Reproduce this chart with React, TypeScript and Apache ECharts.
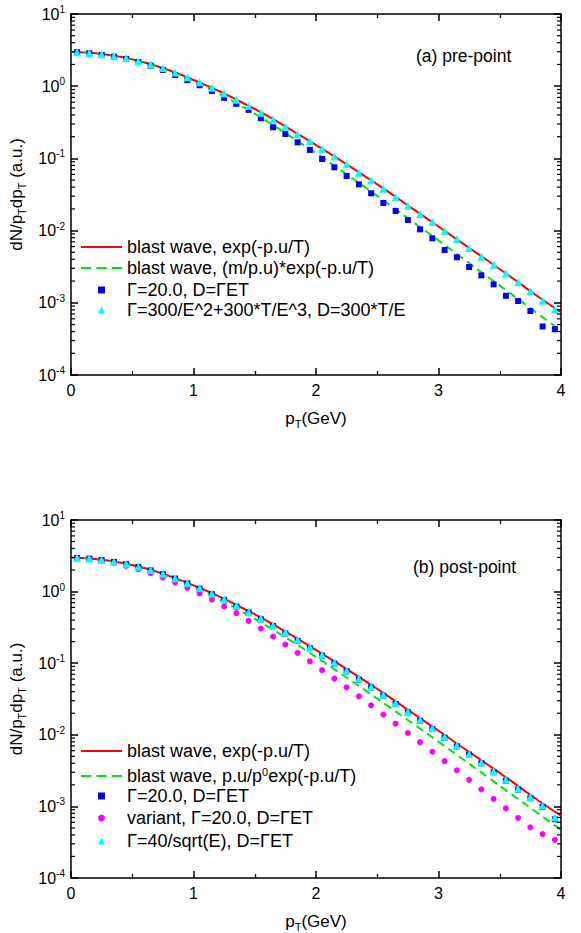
import React, { useEffect, useRef } from "react";
import * as echarts from "echarts";

const FONT = "'Liberation Sans', Arial, sans-serif";

// p_T grid for the model curves (GeV)
const curveP = [0, 0.2, 0.4, 0.6, 0.8, 1.0, 1.2, 1.4, 1.6, 1.8, 2.0, 2.2, 2.4, 2.6, 2.8, 3.0, 3.2, 3.4, 3.6, 3.8, 4.0];
// p_T of the computed points (GeV)
const pointP = [0.05, 0.15, 0.25, 0.35, 0.45, 0.55, 0.65, 0.75, 0.85, 0.95, 1.05, 1.15, 1.25, 1.35, 1.45, 1.55, 1.65, 1.75, 1.85, 1.95,
  2.05, 2.15, 2.25, 2.35, 2.45, 2.55, 2.65, 2.75, 2.85, 2.95, 3.05, 3.15, 3.25, 3.35, 3.45, 3.55, 3.65, 3.75, 3.85, 3.95];

// (a) pre-point
const topRed = [2.97, 2.85, 2.55, 2.13, 1.66, 1.22, 0.87, 0.59, 0.39, 0.246, 0.153, 0.094, 0.0565, 0.0336, 0.0195, 0.0114, 0.0066, 0.00385, 0.00222, 0.00126, 0.00074];
const topGreen = [2.97, 2.84, 2.55, 2.12, 1.63, 1.18, 0.80, 0.52, 0.325, 0.197, 0.118, 0.069, 0.040, 0.0228, 0.0129, 0.0073, 0.0041, 0.0023, 0.0013, 0.00073, 0.00041];
const topSquares = [2.95, 2.86, 2.70, 2.56, 2.38, 2.16, 1.93, 1.68, 1.43, 1.21, 1.03, 0.86, 0.69, 0.57, 0.47, 0.36, 0.27, 0.218, 0.167, 0.131,
  0.098, 0.0753, 0.0570, 0.0437, 0.0329, 0.0241, 0.0187, 0.0140, 0.0104, 0.00782, 0.00538, 0.00427, 0.00313, 0.00240, 0.00180, 0.00125, 0.00106, 0.00077, 0.00047, 0.00043];
const topTriangles = [2.95, 2.89, 2.78, 2.63, 2.45, 2.24, 2.01, 1.78, 1.55, 1.33, 1.13, 0.95, 0.79, 0.65, 0.53, 0.43, 0.345, 0.275, 0.218, 0.174,
  0.135, 0.106, 0.0828, 0.0634, 0.0498, 0.0380, 0.0292, 0.0221, 0.0170, 0.0132, 0.00986, 0.00757, 0.00574, 0.00435, 0.00337, 0.00256, 0.00192, 0.00144, 0.00107, 0.00081];

// (b) post-point
const botRed = [2.97, 2.85, 2.55, 2.13, 1.66, 1.22, 0.87, 0.59, 0.39, 0.246, 0.153, 0.094, 0.0565, 0.0336, 0.0195, 0.0114, 0.0066, 0.00385, 0.00222, 0.00126, 0.00074];
const botGreen = [2.97, 2.83, 2.52, 2.08, 1.60, 1.15, 0.79, 0.52, 0.33, 0.203, 0.122, 0.072, 0.042, 0.0243, 0.0140, 0.0080, 0.00455, 0.00258, 0.00146, 0.00083, 0.00047];
const botSquares = [2.95, 2.88, 2.76, 2.60, 2.42, 2.21, 1.98, 1.75, 1.52, 1.30, 1.10, 0.92, 0.76, 0.62, 0.51, 0.41, 0.33, 0.26, 0.205, 0.162,
  0.127, 0.099, 0.077, 0.059, 0.046, 0.0352, 0.0270, 0.0206, 0.0157, 0.0120, 0.0091, 0.0069, 0.0053, 0.0040, 0.0030, 0.00228, 0.00172, 0.00130, 0.00098, 0.00066];
const botCircles = [2.92, 2.82, 2.67, 2.49, 2.28, 2.05, 1.81, 1.57, 1.34, 1.13, 0.94, 0.77, 0.62, 0.50, 0.39, 0.305, 0.236, 0.182, 0.139, 0.106,
  0.080, 0.061, 0.046, 0.0345, 0.0258, 0.0192, 0.0143, 0.0106, 0.0079, 0.0058, 0.0043, 0.0032, 0.00235, 0.00173, 0.00127, 0.00094, 0.00069, 0.00051, 0.00041, 0.00034];
const botTriangles = [2.95, 2.89, 2.77, 2.62, 2.44, 2.23, 2.00, 1.77, 1.54, 1.32, 1.12, 0.94, 0.78, 0.64, 0.52, 0.42, 0.34, 0.27, 0.212, 0.168,
  0.131, 0.102, 0.079, 0.061, 0.047, 0.0362, 0.0278, 0.0212, 0.0162, 0.0124, 0.0094, 0.0071, 0.0054, 0.0041, 0.0031, 0.00236, 0.00178, 0.00135, 0.00102, 0.00070];

// minor tick positions on the log axis
const yMinorTicks = [2e-4, 3e-4, 4e-4, 5e-4, 6e-4, 7e-4, 8e-4, 9e-4, 2e-3, 3e-3, 4e-3, 5e-3, 6e-3, 7e-3, 8e-3, 9e-3,
  2e-2, 3e-2, 4e-2, 5e-2, 6e-2, 7e-2, 8e-2, 9e-2, 0.2, 0.3, 0.4, 0.5, 0.6, 0.7, 0.8, 0.9, 2, 3, 4, 5, 6, 7, 8, 9];

const nameRed = "blast wave, exp(-p.u/T)";
const nameGreenTop = "blast wave, (m/p.u)*exp(-p.u/T)";
const nameGreenBot = "blast wave, p.u/p{sup|0}exp(-p.u/T)";
const nameSq = "Γ=20.0, D=ΓET";
const nameTriTop = "Γ=300/E^2+300*T/E^3, D=300*T/E";
const nameCirc = "variant, Γ=20.0, D=ΓET";
const nameTriBot = "Γ=40/sqrt(E), D=ΓET";

const RED = "#ff0000";
const GREEN = "#00e600";
const BLUE = "#0000ff";
const CYAN = "#00ffff";
const MAGENTA = "#ff00ff";

const ICON_SOLID = "path://M0,0H40V2H0Z";
const ICON_DASH = "path://M0,0H10V2H0Z M15,0H25V2H15Z M30,0H40V2H30Z";

const zip = (xs: number[], ys: number[]) => xs.map((x, i) => [x, ys[i]]);

function xAxes(grid: number) {
  const common = {
    type: "value",
    gridIndex: grid,
    min: 0,
    max: 4,
    interval: 1,
    splitLine: { show: false },
    minorSplitLine: { show: false },
    axisLine: { onZero: false, lineStyle: { color: "#000", width: 1.5 } },
    axisTick: { inside: true, length: 7, lineStyle: { color: "#000", width: 1.5 } },
    minorTick: { show: true, splitNumber: 2, length: 4, lineStyle: { color: "#000", width: 1.3 } },
  };
  return [
    {
      ...common,
      position: "bottom",
      axisLabel: { color: "#000", fontSize: 16, fontFamily: FONT, margin: 7 },
      name: "p{sub|T}(GeV)",
      nameLocation: "middle",
      nameGap: 33,
      nameTextStyle: {
        color: "#000",
        fontSize: 17,
        fontFamily: FONT,
        rich: { sub: { fontSize: 11, fontFamily: FONT, color: "#000", padding: [10, 0, 0, 0] } },
      },
    },
    { ...common, position: "top", axisLabel: { show: false } },
  ];
}

function yAxes(grid: number) {
  const common = {
    type: "log",
    logBase: 10,
    gridIndex: grid,
    min: 1e-4,
    max: 10,
    splitLine: { show: false },
    minorSplitLine: { show: false },
    minorTick: { show: false },
    axisLine: { onZero: false, lineStyle: { color: "#000", width: 1.5 } },
    axisTick: { inside: true, length: 7, lineStyle: { color: "#000", width: 1.5 } },
  };
  return [
    {
      ...common,
      position: "left",
      axisLabel: {
        color: "#000",
        fontFamily: FONT,
        margin: 6,
        formatter: (v: number) => `{b|10}{s|${Math.round(Math.log10(v))}}`,
        rich: {
          b: { fontSize: 16, fontFamily: FONT, color: "#000" },
          s: { fontSize: 10, fontFamily: FONT, color: "#000", padding: [0, 0, 9, 0] },
        },
      },
      name: "dN/p{sub|T}dp{sub|T} (a.u.)",
      nameLocation: "middle",
      nameGap: 35,
      nameTextStyle: {
        color: "#000",
        fontSize: 17,
        fontFamily: FONT,
        rich: { sub: { fontSize: 11, fontFamily: FONT, color: "#000", padding: [10, 0, 0, 0] } },
      },
    },
    { ...common, position: "right", axisLabel: { show: false } },
  ];
}

function minorTickSeries(xi: number, yi: number) {
  return {
    type: "custom",
    xAxisIndex: xi,
    yAxisIndex: yi,
    silent: true,
    z: 10,
    data: yMinorTicks.map((v) => [0, v]),
    renderItem: (_p: any, api: any) => {
      const v = api.value(1);
      const l = api.coord([0, v]);
      const r = api.coord([4, v]);
      const st = { stroke: "#000", lineWidth: 1.2 };
      return {
        type: "group",
        children: [
          { type: "line", shape: { x1: l[0], y1: l[1], x2: l[0] + 4, y2: l[1] }, style: st },
          { type: "line", shape: { x1: r[0] - 4, y1: r[1], x2: r[0], y2: r[1] }, style: st },
        ],
      };
    },
  };
}

function lineSeries(name: string, xi: number, yi: number, data: number[], color: string, dashed: boolean) {
  return {
    type: "line",
    name,
    xAxisIndex: xi,
    yAxisIndex: yi,
    data: zip(curveP, data),
    smooth: true,
    symbol: "none",
    lineStyle: { color, width: 2, type: dashed ? [8, 5] : "solid" },
    itemStyle: { color },
    z: 3,
  };
}

function scatterSeries(name: string, xi: number, yi: number, data: number[], color: string, symbol: string, size: number) {
  return {
    type: "scatter",
    name,
    xAxisIndex: xi,
    yAxisIndex: yi,
    data: zip(pointP, data),
    symbol,
    symbolSize: size,
    itemStyle: { color, opacity: 1 },
    z: 4,
  };
}

const legendText = {
  color: "#000",
  fontSize: 18,
  fontFamily: FONT,
  rich: { sup: { fontSize: 11, fontFamily: FONT, color: "#000", padding: [0, 0, 9, 0] } },
};

// one legend component per entry so that line and marker keys can have their own sizes
function lineLegend(name: string, icon: string, cy: number) {
  return {
    orient: "vertical",
    left: 81,
    top: cy - 10,
    padding: 0,
    itemWidth: 41,
    itemHeight: 8,
    selectedMode: false,
    textStyle: legendText,
    data: [{ name, icon }],
  };
}
function markLegend(name: string, cy: number) {
  return {
    orient: "vertical",
    left: 98,
    top: cy - 10,
    padding: 0,
    itemWidth: 7,
    itemHeight: 7,
    selectedMode: false,
    textStyle: { ...legendText, padding: [0, 0, 0, 17] },
    data: [name],
  };
}

export default function App() {
  const ref = useRef<HTMLDivElement>(null);
  useEffect(() => {
    if (!ref.current) return;
    const chart = echarts.init(ref.current, null, { renderer: "svg" });
    chart.setOption({
      animation: false,
      backgroundColor: "#fff",
      grid: [
        { left: 71, top: 14, width: 490, height: 361 },
        { left: 71, top: 520, width: 490, height: 360 },
      ],
      xAxis: [...xAxes(0), ...xAxes(1)],
      yAxis: [...yAxes(0), ...yAxes(1)],
      legend: [
        lineLegend(nameRed, ICON_SOLID, 248),
        lineLegend(nameGreenTop, ICON_DASH, 269),
        markLegend(nameSq, 291),
        markLegend(nameTriTop, 311),
        lineLegend(nameRed, ICON_SOLID, 752),
        lineLegend(nameGreenBot, ICON_DASH, 776),
        markLegend(nameSq, 797),
        markLegend(nameCirc, 819),
        markLegend(nameTriBot, 842),
      ],
      graphic: [
        { type: "text", left: 416, top: 47, style: { text: "(a) pre-point", fontSize: 17.5, fontFamily: FONT, fill: "#000" } },
        { type: "text", left: 413, top: 558, style: { text: "(b) post-point", fontSize: 17.5, fontFamily: FONT, fill: "#000" } },
      ],
      series: [
        lineSeries(nameRed, 0, 0, topRed, RED, false),
        lineSeries(nameGreenTop, 0, 0, topGreen, GREEN, true),
        scatterSeries(nameSq, 0, 0, topSquares, BLUE, "rect", 6),
        scatterSeries(nameTriTop, 0, 0, topTriangles, CYAN, "triangle", 8),
        minorTickSeries(0, 0),
        lineSeries(nameRed, 2, 2, botRed, RED, false),
        lineSeries(nameGreenBot, 2, 2, botGreen, GREEN, true),
        scatterSeries(nameSq, 2, 2, botSquares, BLUE, "rect", 6),
        scatterSeries(nameCirc, 2, 2, botCircles, MAGENTA, "circle", 6),
        scatterSeries(nameTriBot, 2, 2, botTriangles, CYAN, "triangle", 8),
        minorTickSeries(2, 2),
      ],
    });
    return () => chart.dispose();
  }, []);
  return <div ref={ref} style={{ position: "fixed", left: 0, top: 0, width: 581, height: 933, background: "#fff" }} />;
}
